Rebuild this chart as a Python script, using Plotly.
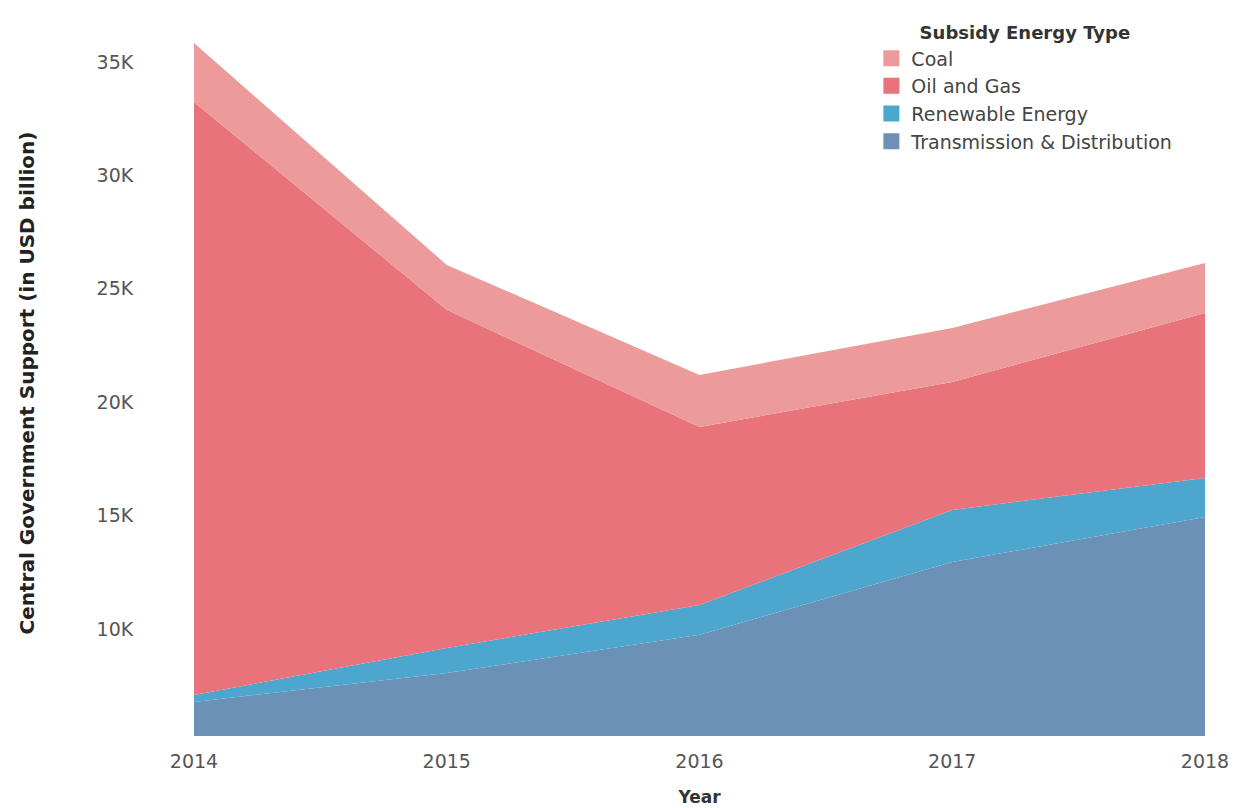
import plotly.graph_objects as go

years = [2014, 2015, 2016, 2017, 2018]
series_names = ["Transmission & Distribution", "Renewable Energy", "Oil and Gas", "Coal"]
td_values = [6780, 8060, 9740, 12950, 14940]
renewable_values = [310, 1100, 1320, 2300, 1720]
oil_gas_values = [26150, 14910, 7850, 5640, 7270]
coal_values = [2600, 1980, 2290, 2380, 2210]
y_tick_vals = [10000, 15000, 20000, 25000, 30000, 35000]
y_tick_text = ["10K", "15K", "20K", "25K", "30K", "35K"]

colors = {
    "Transmission & Distribution": "#6b91b7",
    "Renewable Energy": "#4ca6ce",
    "Oil and Gas": "#e8737a",
    "Coal": "#ed9a9b",
}
values = {
    "Transmission & Distribution": td_values,
    "Renewable Energy": renewable_values,
    "Oil and Gas": oil_gas_values,
    "Coal": coal_values,
}

FONT = "DejaVu Sans"
fig = go.Figure()
for name in series_names:
    fig.add_trace(go.Scatter(
        x=years, y=values[name], name=name, mode="lines",
        stackgroup="one", line=dict(width=0, color=colors[name]),
        fillcolor=colors[name], showlegend=False,
        hovertemplate="%{x}: %{y}<extra>" + name + "</extra>",
    ))

# legend swatches (square markers)
for name in ["Coal", "Oil and Gas", "Renewable Energy", "Transmission & Distribution"]:
    fig.add_trace(go.Scatter(
        x=[None], y=[None], mode="markers", name=name, legendgroup=name,
        marker=dict(symbol="square", size=18, color=colors[name]),
        showlegend=True,
    ))

fig.update_layout(
    width=1236, height=808,
    margin=dict(l=186, r=39, t=22, b=80, autoexpand=False),
    paper_bgcolor="white", plot_bgcolor="white",
    font=dict(family=FONT, color="#555555", size=15),
    legend=dict(
        x=0.67, y=1.02, xanchor="left", yanchor="top",
        traceorder="normal",
        title=dict(text="<b>Subsidy Energy Type</b>", side="top center",
                   font=dict(size=18, color="#333333", family=FONT)),
        font=dict(size=19, color="#444444", family=FONT),
        itemsizing="trace", tracegroupgap=12, bgcolor="rgba(0,0,0,0)",
    ),
    xaxis=dict(
        range=[2014, 2018], tickvals=years, ticktext=[str(y) for y in years],
        showgrid=False, zeroline=False, showline=False,
        ticks="outside", ticklen=8, tickcolor="rgba(0,0,0,0)",
        tickfont=dict(size=19, color="#555555"),
        title=dict(text="<b>Year</b>", font=dict(size=17, color="#333333"), standoff=20),
    ),
    yaxis=dict(
        range=[5280, 36410], tickvals=y_tick_vals, ticktext=y_tick_text,
        showgrid=False, zeroline=False, showline=False,
        ticks="outside", ticklen=56, tickcolor="rgba(0,0,0,0)",
        tickfont=dict(size=19, color="#555555"),
        title=dict(text="<b>Central Government Support (in USD billion)</b>",
                   font=dict(size=20, color="#222222"), standoff=56),
    ),
)

fig.write_html("out.html")
